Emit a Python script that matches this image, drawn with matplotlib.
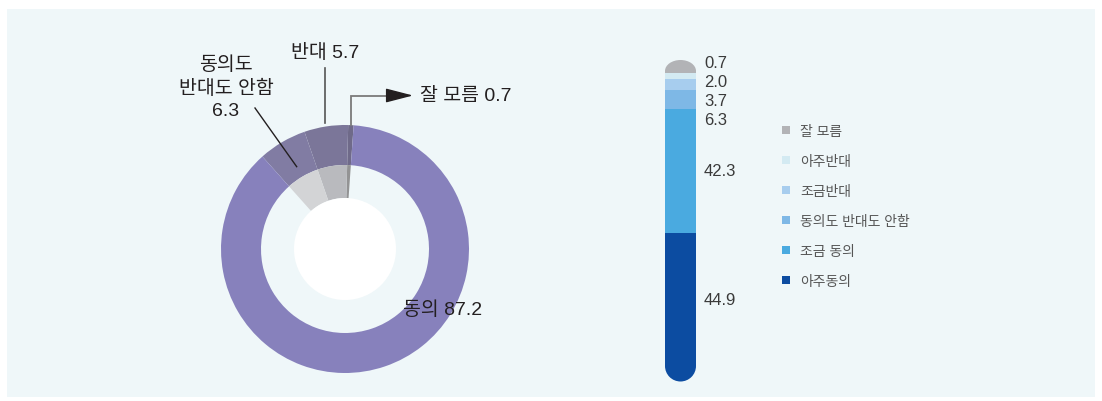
import matplotlib
matplotlib.use('Agg')
import matplotlib.pyplot as plt
from matplotlib.patches import Rectangle, Circle, Ellipse, Patch
import numpy as np

# ---------------- data ----------------
donut_labels = ['잘 모름', '반대', '동의도\n반대도 안함', '동의']
donut_values = [0.7, 5.7, 6.3, 87.2]

bar_categories = ['잘 모름', '아주반대', '조금반대', '동의도 반대도 안함', '조금 동의', '아주동의']
bar_values = [0.7, 2.0, 3.7, 6.3, 42.3, 44.9]
bar_value_labels = ['0.7', '2.0', '3.7', '6.3', '42.3', '44.9']

# ---------------- style ----------------
outer_colors = ['#6f6a89', '#7b7699', '#817ca3', '#8781bc']
inner_colors = ['#939394', '#b9babe', '#d3d4d6', 'none']
bar_colors = ['#b2b3b6', '#d3eaf2', '#a7cdee', '#7eb8e6', '#4aaae0', '#0c4ca1']
PANEL = '#eff7f9'
FONT = ['Liberation Sans', 'Noto Sans CJK KR']
plt.rcParams['font.family'] = FONT

W, H = 1102, 402
fig = plt.figure(figsize=(W / 100, H / 100), dpi=100)
fig.patch.set_facecolor('white')
fig.add_artist(Rectangle((7 / W, (H - 398) / H), (1095 - 7) / W, (398 - 10) / H,
                         transform=fig.transFigure, facecolor=PANEL,
                         edgecolor='none', zorder=-5))

# ---------------- donut ----------------
cx, cy, R = 345, 250, 124.0
ax = fig.add_axes([0, 0, 1, 1])
ax.patch.set_alpha(0)


def P(px, py):
    return ((px - cx) / R, (cy - py) / R)


outer, _ = ax.pie(donut_values, radius=1.0, startangle=86, counterclock=True,
                  colors=outer_colors,
                  wedgeprops=dict(width=1 - 84 / R, linewidth=0, edgecolor='none'))
inner, _ = ax.pie(donut_values, radius=84 / R, startangle=86, counterclock=True,
                  colors=inner_colors,
                  wedgeprops=dict(width=(84 - 51) / R, linewidth=0, edgecolor='none'))
ax.add_patch(Circle((0, 0), 51 / R, facecolor='white', edgecolor='none', zorder=3))
ax.set_aspect('auto')
ax.set_xlim(-cx / R, (W - cx) / R)
ax.set_ylim(-(H - cy) / R, cy / R)
ax.axis('off')

mids = [np.deg2rad((w.theta1 + w.theta2) / 2) for w in outer]
txtc = '#231f20'
fs_d = 14

# 잘 모름 : elbow line with arrow
a = mids[0]
x0, y0 = np.cos(a) * 1.0, np.sin(a) * 1.0
ty = P(0, 96.5)[1]
tip_x = P(413, 0)[0]
head = 24 / R
ax.plot([x0, x0, tip_x - head + 2 / R], [y0, ty, ty], color='#7a7a7a', lw=1.3,
        clip_on=False, solid_joinstyle='miter')
ax.annotate('', xy=(tip_x, ty), xytext=(tip_x - head, ty),
            arrowprops=dict(arrowstyle='-|>,head_length=0.85,head_width=0.22',
                            mutation_scale=20, color=txtc, lw=1,
                            shrinkA=0, shrinkB=0))
ax.text(P(420, 0)[0], ty, f'{donut_labels[0]} {donut_values[0]}', ha='left',
        va='center', fontsize=fs_d, color=txtc)

# 반대 : vertical line
a = mids[1]
x1, y1 = np.cos(a) * 1.03, np.sin(a) * 1.03
ytop = P(0, 69)[1]
ax.plot([x1, x1], [y1, ytop], color='#555555', lw=1.2, clip_on=False)
ax.text(x1, P(0, 53)[1], f'{donut_labels[1]} {donut_values[1]}', ha='center',
        va='center', fontsize=fs_d, color=txtc)

# 동의도 반대도 안함 : diagonal line
a = mids[2]
x2, y2 = np.cos(a) * 0.77, np.sin(a) * 0.77
sx, sy = P(255, 109)
ax.plot([sx, x2], [sy, y2], color=txtc, lw=1.0, clip_on=False, zorder=4)
ax.text(P(226, 0)[0], P(0, 88)[1], f'{donut_labels[2]}\n{donut_values[2]}',
        ha='center', va='center', fontsize=fs_d, color=txtc, linespacing=1.38,
        multialignment='center')

# 동의
ax.text(P(403, 0)[0], P(0, 310)[1], f'{donut_labels[3]} {donut_values[3]}',
        ha='left', va='center', fontsize=fs_d, color=txtc)

# ---------------- thermometer bar ----------------
bx_l, bx_b, bx_w, bx_h = 665, 35, 31, 295
bx = fig.add_axes([bx_l / W, bx_b / H, bx_w / W, bx_h / H])
bx.patch.set_alpha(0)
total = sum(bar_values)
ppu = bx_h / total
order = list(range(len(bar_values)))[::-1]  # bottom to top
bottoms = {}
cum = 0.0
for i in order:
    bx.bar(0.5, bar_values[i], bottom=cum, width=1.0, color=bar_colors[i],
           linewidth=0, zorder=2)
    bottoms[i] = cum
    cum += bar_values[i]
bx.set_xlim(0, 1)
bx.set_ylim(0, total)
bx.axis('off')
# rounded caps
top_cap = 11
bot_cap = 15.5
bx.add_patch(Ellipse((0.5, total), 1.0, 2 * top_cap / ppu, facecolor=bar_colors[0],
                     edgecolor='none', zorder=1, clip_on=False))
bx.add_patch(Ellipse((0.5, 0), 1.0, 2 * bot_cap / ppu, facecolor=bar_colors[-1],
                     edgecolor='none', zorder=1, clip_on=False))

# value labels with simple de-overlap (top to bottom)
gap = 19 / ppu
pos = []
prev = None
for i in range(len(bar_values)):
    c = bottoms[i] + bar_values[i] / 2
    if prev is None:
        p = total + (top_cap * 0.75) / ppu
    else:
        p = min(c, prev - gap)
    pos.append(p)
    prev = p
lx = (704 - bx_l) / bx_w
for i, p in enumerate(pos):
    bx.text(lx, p, bar_value_labels[i], transform=bx.get_yaxis_transform(),
            ha='left', va='center', fontsize=12, color='#3a3a3a', clip_on=False)

# ---------------- legend ----------------
handles = [Patch(facecolor=c, edgecolor='none') for c in bar_colors]
fig.legend(handles, bar_categories, loc='upper left',
           bbox_to_anchor=(782 / W, (H - 125) / H), frameon=False,
           handlelength=0.55, handleheight=0.55, handletextpad=0.75,
           labelspacing=1.15, borderpad=0, borderaxespad=0,
           prop={'size': 10}, labelcolor='#555555')

fig.savefig('out.png', dpi=100, facecolor='white')
